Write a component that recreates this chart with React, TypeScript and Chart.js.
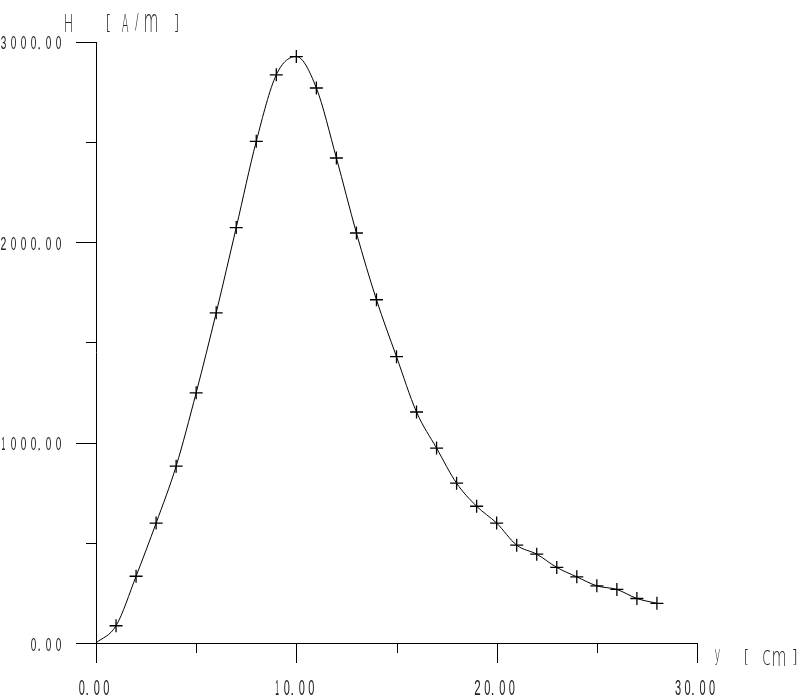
import React, { useEffect, useRef } from "react";
import { Chart, registerables } from "chart.js";

Chart.register(...registerables);

// ---- data ----
const Y_CM = [0, 1, 2, 3, 4, 5, 6, 7, 8, 9, 10, 11, 12, 13, 14, 15, 16, 17, 18, 19, 20, 21, 22, 23, 24, 25, 26, 27, 28];
const H_AM = [0, 86, 333, 598, 882, 1248, 1647, 2072, 2502, 2834, 2925, 2768, 2419, 2045, 1712, 1428, 1152, 972, 797, 682, 598, 488, 443, 377, 330, 285, 267, 222, 198];
const X_MAJOR_TICKS = [0, 10, 20, 30];
const X_MINOR_TICKS = [5, 15, 25];
const Y_MAJOR_TICKS = [0, 1000, 2000, 3000];
const Y_MINOR_TICKS = [500, 1500, 2500];
const X_TITLE = "y [cm]";
const Y_TITLE = "H [A/m]";

const INK = "#000";
const TEXT_INK = "#222";

function drawGlyph(
  ctx: CanvasRenderingContext2D,
  ch: string,
  left: number,
  top: number,
  w: number,
  h: number,
  font = '40px "Liberation Sans", "DejaVu Sans", sans-serif'
) {
  if (ch === " ") return;
  if (ch === ".") {
    ctx.fillRect(left, top + h - 2, 1.3, 2);
    return;
  }
  ctx.save();
  ctx.font = font;
  ctx.textBaseline = "alphabetic";
  ctx.textAlign = "left";
  const m = ctx.measureText(ch);
  const gw = m.actualBoundingBoxRight + m.actualBoundingBoxLeft;
  const gh = m.actualBoundingBoxAscent + m.actualBoundingBoxDescent;
  ctx.translate(left, top);
  ctx.scale(w / gw, h / gh);
  ctx.fillText(ch, m.actualBoundingBoxLeft, m.actualBoundingBoxAscent);
  ctx.restore();
}

function drawNumber(
  ctx: CanvasRenderingContext2D,
  text: string,
  x: number,
  yMid: number,
  anchor: "right" | "center",
  digitAdv: number,
  dotAdv: number,
  w: number,
  h: number
) {
  const chars = text.split("");
  const centers: number[] = [];
  let c = 0;
  chars.forEach((ch, i) => {
    if (i > 0) c += ch === "." || chars[i - 1] === "." ? dotAdv : digitAdv;
    centers.push(c);
  });
  const span = centers[centers.length - 1];
  const shift = anchor === "right" ? x - span : x - span / 2;
  chars.forEach((ch, i) => {
    const gw = ch === "1" ? 3 : w;
    const cx = centers[i] + shift;
    drawGlyph(ctx, ch, cx - gw / 2, yMid - h / 2, gw, h);
  });
}

// glyph boxes [offset from anchor, width] for each non-space char of the titles
const Y_TITLE_BOXES: [number, number][] = [
  [-31, 7], [11, 3], [26, 6.5], [39, 3.5], [49, 12], [79, 3],
];
const X_TITLE_BOXES: [number, number][] = [
  [18, 5], [48, 3], [66, 7], [76, 12], [96, 3.5],
];
const TITLE_FONT = '200 40px "DejaVu Sans", "Liberation Sans", sans-serif';

const axesPlugin = {
  id: "oldAxes",
  afterDraw(chart: any) {
    const ctx: CanvasRenderingContext2D = chart.ctx;
    const xs = chart.scales.x;
    const ys = chart.scales.y;
    const x0 = Math.round(xs.getPixelForValue(0));
    const xEnd = Math.round(xs.getPixelForValue(30));
    const y0 = Math.round(ys.getPixelForValue(0));
    const yTop = Math.round(ys.getPixelForValue(3000));
    ctx.save();
    ctx.strokeStyle = INK;
    ctx.lineWidth = 1;
    ctx.beginPath();
    ctx.moveTo(x0 + 0.5, yTop);
    ctx.lineTo(x0 + 0.5, y0 + 20);
    ctx.moveTo(x0 - 20, y0 + 0.5);
    ctx.lineTo(xEnd + 1, y0 + 0.5);
    Y_MAJOR_TICKS.forEach((v) => {
      const p = Math.round(ys.getPixelForValue(v)) + 0.5;
      ctx.moveTo(x0 - 20, p);
      ctx.lineTo(x0 + 1, p);
    });
    Y_MINOR_TICKS.forEach((v) => {
      const p = Math.round(ys.getPixelForValue(v)) + 0.5;
      ctx.moveTo(x0 - 10, p);
      ctx.lineTo(x0 + 1, p);
    });
    X_MAJOR_TICKS.forEach((v) => {
      const p = Math.round(xs.getPixelForValue(v)) + 0.5;
      ctx.moveTo(p, y0);
      ctx.lineTo(p, y0 + 20);
    });
    X_MINOR_TICKS.forEach((v) => {
      const p = Math.round(xs.getPixelForValue(v)) + 0.5;
      ctx.moveTo(p, y0);
      ctx.lineTo(p, y0 + 10);
    });
    ctx.stroke();

    ctx.fillStyle = TEXT_INK;
    Y_MAJOR_TICKS.forEach((v) => {
      const p = ys.getPixelForValue(v);
      drawNumber(ctx, v.toFixed(2), x0 - 37.5, p + 1.5, "right", 10, 7.5, 5, 12.5);
    });
    X_MAJOR_TICKS.forEach((v) => {
      const p = xs.getPixelForValue(v);
      drawNumber(ctx, v.toFixed(2), p - 2, y0 + 44.5, "center", 9.5, 7.5, 5.5, 15);
    });

    const yChars = Y_TITLE.replace(/ /g, "").split("");
    yChars.forEach((ch, i) => {
      const [off, w] = Y_TITLE_BOXES[i];
      drawGlyph(ctx, ch, x0 + off, yTop - 28.5, w, 18, TITLE_FONT);
    });
    const xChars = X_TITLE.replace(/ /g, "").split("");
    xChars.forEach((ch, i) => {
      const [off, w] = X_TITLE_BOXES[i];
      drawGlyph(ctx, ch, xEnd + off, y0 + 7, w, 15.5, TITLE_FONT);
    });
    ctx.restore();
  },
};

export default function App() {
  const canvasRef = useRef<HTMLCanvasElement | null>(null);

  useEffect(() => {
    const canvas = canvasRef.current;
    if (!canvas) return;
    const chart = new Chart(canvas, {
      type: "line",
      data: {
        datasets: [
          {
            data: Y_CM.map((x, i) => ({ x, y: H_AM[i] })),
            borderColor: INK,
            borderWidth: 1,
            backgroundColor: INK,
            cubicInterpolationMode: "monotone",
            fill: false,
            pointStyle: "cross",
            pointRadius: (c: any) => (c.dataIndex === 0 ? 0 : 6.5),
            pointBorderWidth: 1.3,
            pointBorderColor: INK,
            clip: false,
          } as any,
        ],
      },
      options: {
        animation: false,
        responsive: false,
        devicePixelRatio: 1,
        layout: { padding: { left: 96, right: 100, top: 41.5, bottom: 56 } },
        plugins: {
          legend: { display: false },
          tooltip: { enabled: false },
          title: { display: false },
        },
        events: [],
        scales: {
          x: { type: "linear", min: 0, max: 30, display: false },
          y: { type: "linear", min: 0, max: 3000, display: false },
        },
      },
      plugins: [axesPlugin],
    });
    return () => chart.destroy();
  }, []);

  return (
    <div style={{ position: "fixed", left: 0, top: 0, width: 797, height: 699, background: "#fff" }}>
      <canvas ref={canvasRef} width={797} height={699} style={{ display: "block", width: 797, height: 699 }} />
    </div>
  );
}
